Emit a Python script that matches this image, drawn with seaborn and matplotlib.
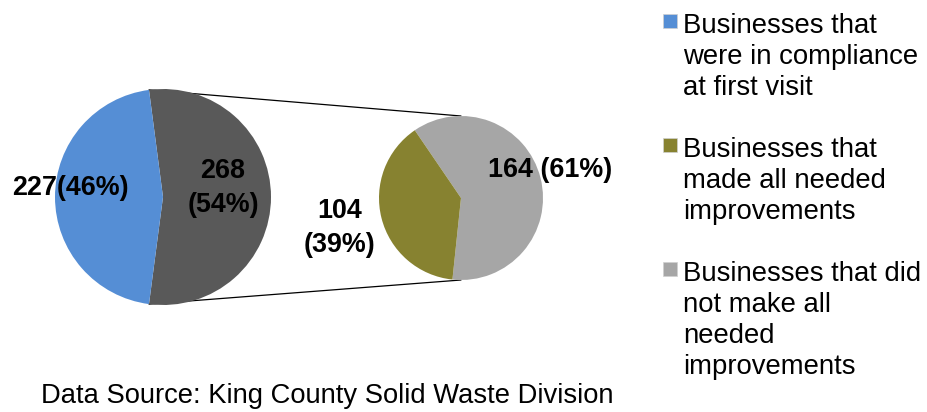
import numpy as np
import matplotlib
matplotlib.use("Agg")
import matplotlib.pyplot as plt
import seaborn as sns
from matplotlib.patches import Rectangle

# dados do grafico (pie of pie)
main_labels = ["Businesses that needed improvements", "Businesses that were in compliance at first visit"]
main_values = [268, 227]
sub_labels = ["Businesses that did not make all needed improvements", "Businesses that made all needed improvements"]
sub_values = [164, 104]

legend_texts = [
    "Businesses that\nwere in compliance\nat first visit",
    "Businesses that\nmade all needed\nimprovements",
    "Businesses that did\nnot make all\nneeded\nimprovements",
]

cor_azul = "#558ED5"
cor_escura = "#595959"
cor_oliva = "#878230"
cor_cinza = "#A6A6A6"
legend_colors = [cor_azul, cor_oliva, cor_cinza]

sns.set_theme(style="white")
plt.rcParams["font.family"] = ["Liberation Sans", "DejaVu Sans"]

W, H = 927, 412
fig = plt.figure(figsize=(W / 100, H / 100), dpi=100)
ax = fig.add_axes([0, 0, 1, 1])
ax.set_xlim(0, W)
ax.set_ylim(0, H)
ax.set_aspect("equal")
ax.axis("off")


def py(y):
    # converte y em pixels (de cima para baixo) para coordenadas do eixo
    return H - y


# pizza principal
c1, r1 = (163, py(197)), 108
frac_escura = main_values[0] / sum(main_values)
w1, _ = ax.pie(main_values, colors=[cor_escura, cor_azul], center=c1, radius=r1,
               startangle=-frac_escura * 180, counterclock=True, frame=True,
               wedgeprops=dict(linewidth=0))

# pizza secundaria
c2, r2 = (461, py(198)), 82
w2, _ = ax.pie(sub_values, colors=[cor_cinza, cor_oliva], center=c2, radius=r2,
               startangle=-96, counterclock=True, frame=True,
               wedgeprops=dict(linewidth=0))
ax.set_xlim(0, W)
ax.set_ylim(0, H)
ax.axis("off")

# linhas de conexao
t1, t2 = np.radians(w1[0].theta1), np.radians(w1[0].theta2)
p_top = (c1[0] + r1 * np.cos(t2), c1[1] + r1 * np.sin(t2))
p_bot = (c1[0] + r1 * np.cos(t1), c1[1] + r1 * np.sin(t1))
ax.plot([p_top[0], c2[0]], [p_top[1], c2[1] + r2], color="black", lw=0.9, zorder=0)
ax.plot([p_bot[0], c2[0]], [p_bot[1], c2[1] - r2], color="black", lw=0.9, zorder=0)


def texto_linhas(x, y, linhas, passo, **kw):
    for i, linha in enumerate(linhas):
        ax.text(x, py(y + i * passo), linha, va="baseline", **kw)


def pct(v, vals):
    return round(v / sum(vals) * 100)


rot = dict(ha="center", fontsize=19.4, fontweight="bold", color="black")
texto_linhas(70, 195, [f"{main_values[1]}({pct(main_values[1], main_values)}%)"], 34, **rot)
texto_linhas(223, 178, [f"{main_values[0]}", f"({pct(main_values[0], main_values)}%)"], 34, **rot)
texto_linhas(340, 218, [f"{sub_values[1]}", f"({pct(sub_values[1], sub_values)}%)"], 34, **rot)
texto_linhas(550, 177, [f"{sub_values[0]} ({pct(sub_values[0], sub_values)}%)"], 34, **rot)

# legenda manual
passo = 31
n = 0
for i, (txt, cor) in enumerate(zip(legend_texts, legend_colors)):
    base = 33 + (n + i) * passo
    ax.add_patch(Rectangle((663, py(base - 5)), 14, 14, facecolor=cor, edgecolor="#D0D0D0", lw=0.5))
    linhas = txt.split("\n")
    texto_linhas(683, base, linhas, passo, ha="left", fontsize=19.8, color="black")
    n += len(linhas)

ax.text(327, py(403), "Data Source: King County Solid Waste Division", ha="center",
        va="baseline", fontsize=19.7, color="black")

fig.savefig("out.png", dpi=100)
